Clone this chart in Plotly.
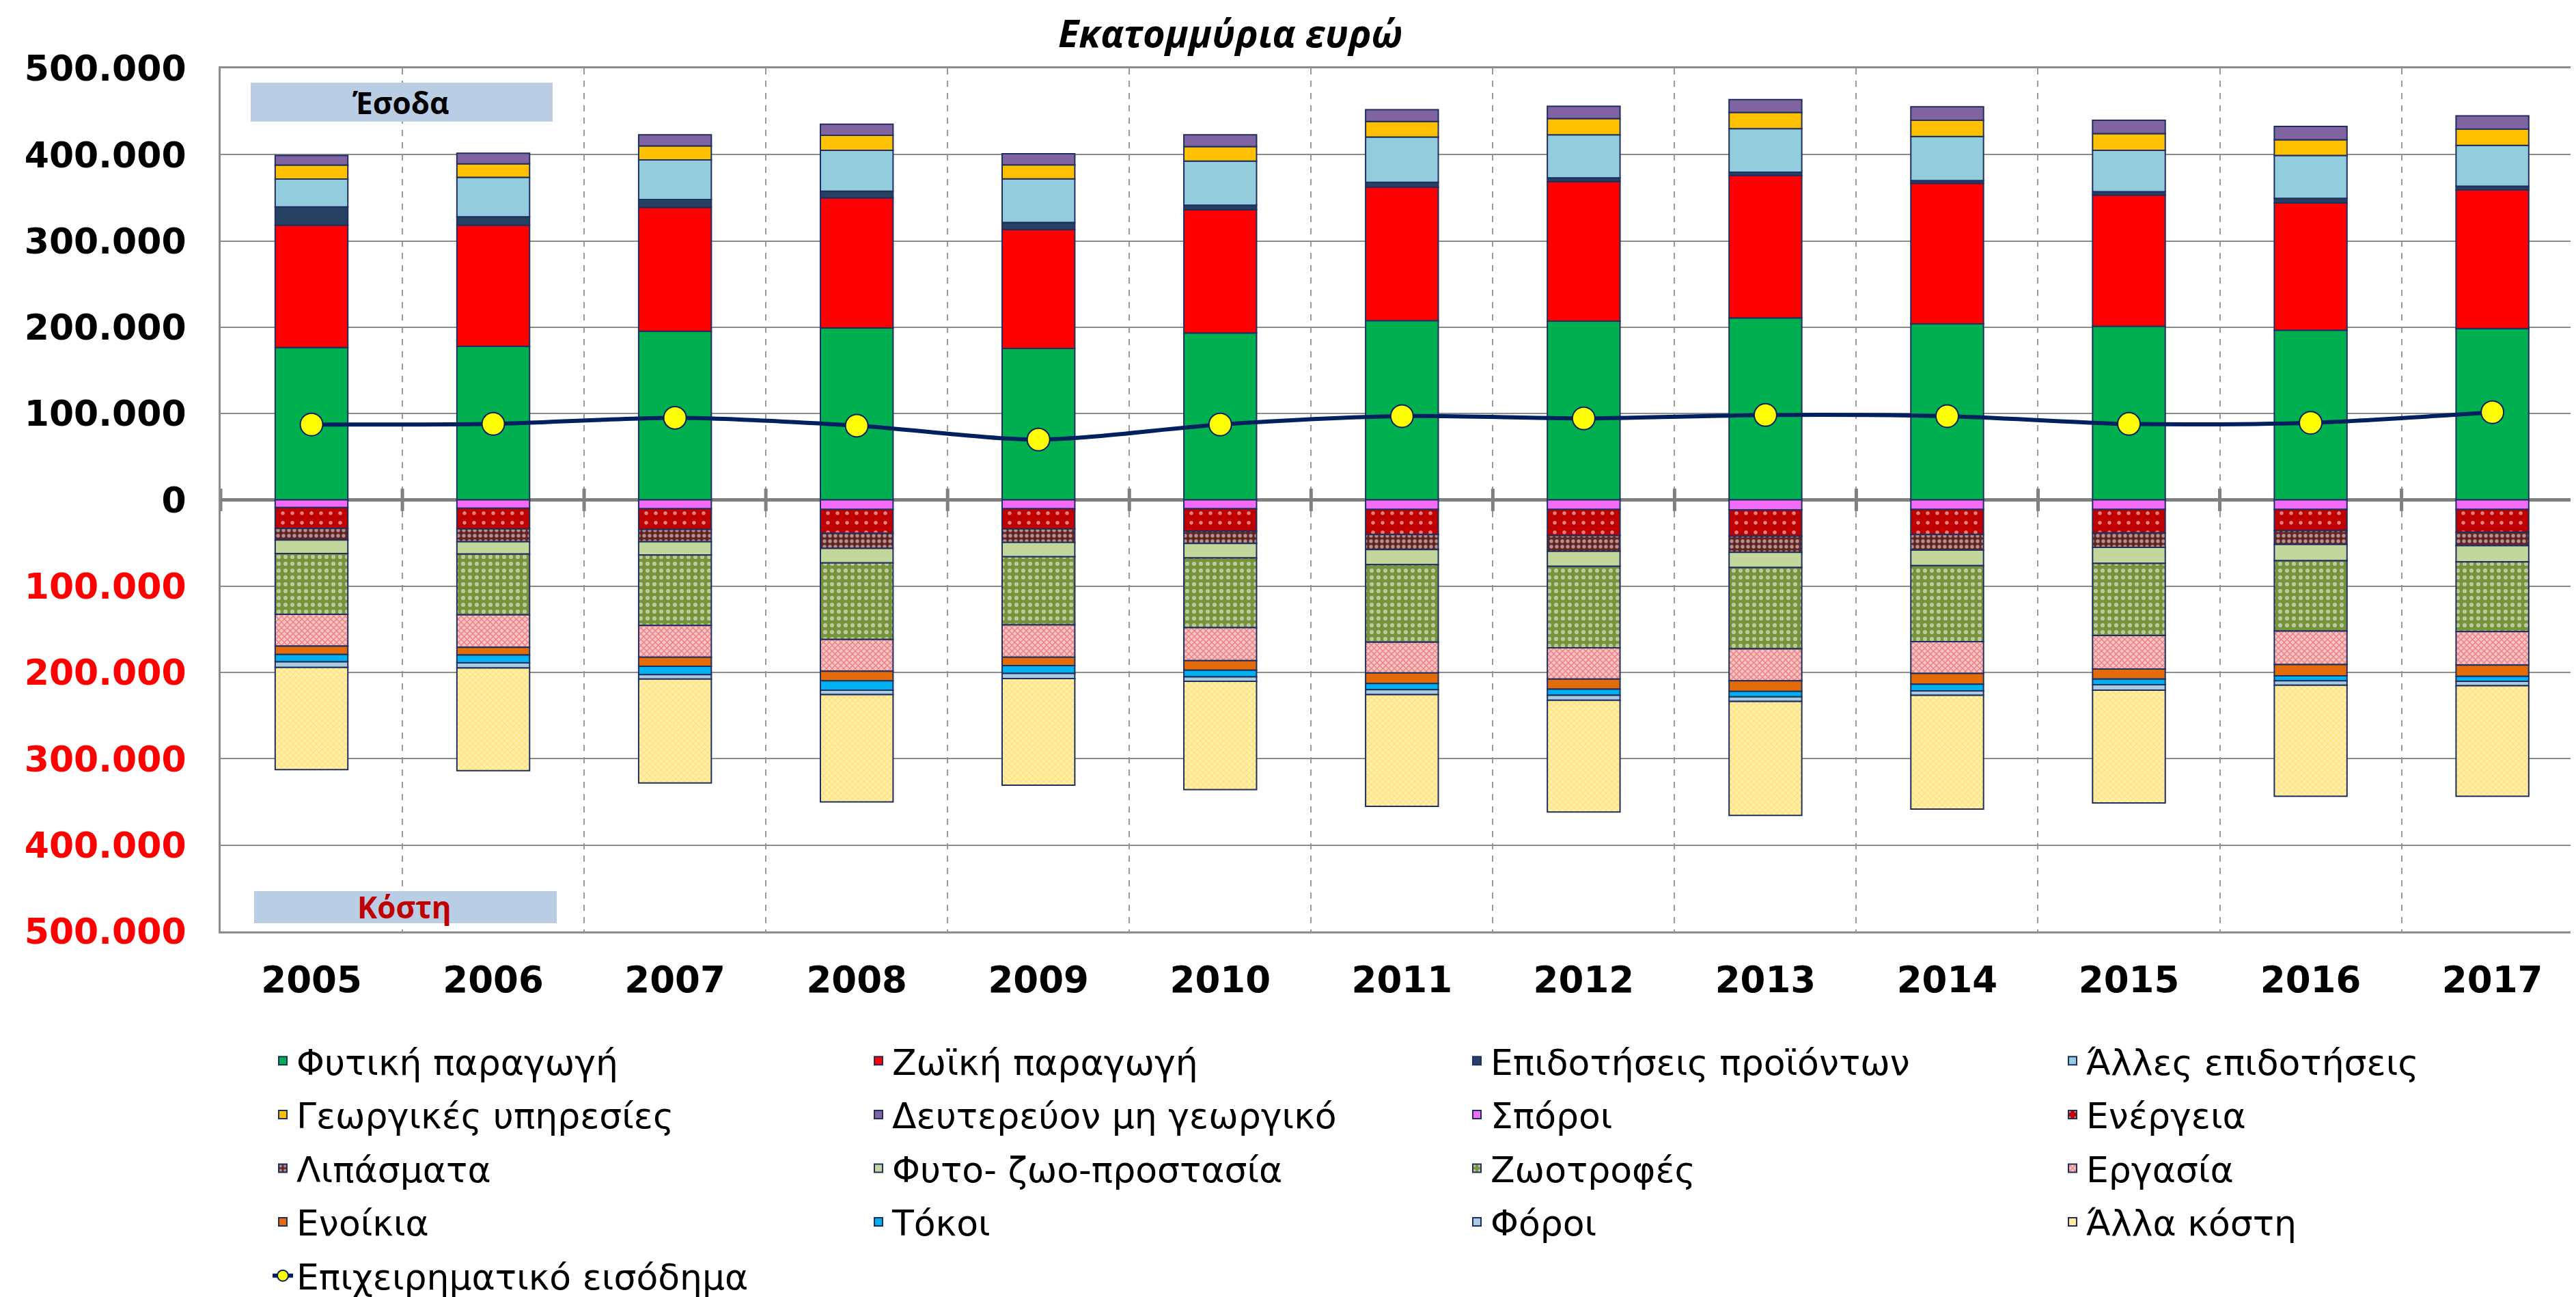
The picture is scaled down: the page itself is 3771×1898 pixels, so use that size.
import plotly.graph_objects as go

years = [str(y) for y in range(2005, 2018)]

# Income components
crop =        [176600, 177900, 195300, 199200, 175300, 193400, 207600, 207000, 210900, 203800, 201200, 196600, 198600]
animal =      [141600, 140300, 143600, 150700, 137800, 143000, 154600, 161700, 164900, 163000, 152000, 147500, 160400]
prod_subs =   [21300, 9700, 9100, 7800, 8400, 5100, 5800, 4500, 3900, 3200, 3900, 5200, 4500]
other_subs =  [32300, 45900, 45900, 47200, 50400, 51100, 52400, 49800, 50400, 51100, 47800, 49800, 47200]
agri_serv =   [16200, 15500, 16200, 17500, 16200, 16800, 18100, 18800, 18800, 18700, 19400, 18100, 18800]
secondary =   [11000, 12300, 12900, 12900, 12900, 13600, 13600, 14200, 14900, 15600, 15500, 15500, 15500]

# Cost components (shown below zero)
seeds =       [9000, 9700, 10300, 11000, 10300, 10300, 11000, 11000, 11600, 11000, 11000, 11000, 11000]
energy =      [24000, 23900, 24000, 27800, 23300, 25900, 29100, 30400, 30400, 29100, 27200, 24600, 26500]
fertil =      [13600, 14900, 14200, 17500, 15600, 14300, 17500, 18100, 18800, 18100, 16800, 16100, 15500]
protection =  [15500, 14200, 15500, 16800, 16800, 16800, 17400, 17500, 17500, 18100, 18700, 18800, 18800]
feed =        [70500, 70500, 81500, 88600, 78900, 80800, 89900, 94400, 94400, 88000, 83500, 81500, 80900]
labour =      [36900, 37600, 36900, 36900, 37500, 38200, 35600, 36200, 36900, 36900, 38800, 38800, 38800]
rent =        [9700, 9000, 10400, 11000, 9700, 11000, 12300, 11700, 12300, 12300, 11600, 13000, 12900]
interest =    [8400, 9100, 9700, 11000, 9100, 7700, 7100, 7100, 6400, 7700, 6500, 5800, 5800]
taxes =       [6500, 5800, 5100, 5100, 5800, 5200, 5800, 5800, 5200, 5200, 6500, 5100, 5200]
other_costs = [118400, 119000, 120300, 124200, 123500, 125500, 129400, 129400, 132000, 131900, 130600, 128800, 128100]

# Entrepreneurial income (line)
income =      [87300, 88000, 95100, 86000, 69900, 87300, 97000, 94400, 98300, 97000, 88000, 89300, 101600]

y_ticks = [500000, 400000, 300000, 200000, 100000, 0, -100000, -200000, -300000, -400000, -500000]

# ---------------------------------------------------------------------------
OFF = 8                      # default page margin of the html body
W, H = 3771 - OFF, 1898 - OFF
ML, MT = 323 - OFF, 100 - OFF
PLOT_BOTTOM = 1363 - OFF
MB = H - PLOT_BOTTOM
MR = 0
PW, PH = W - ML - MR, H - MT - MB


def px_x(p):
    """page pixel x -> paper coordinate"""
    return (p - OFF - ML) / PW


def px_y(p):
    """page pixel y -> paper coordinate"""
    return (PLOT_BOTTOM - (p - OFF)) / PH


def fmt(v):
    s = f"{abs(v):,}".replace(",", ".")
    if v < 0:
        return f"<span style='color:#FF0000'>{s}</span>"
    return s


OUTLINE = dict(color="#1F2F5F", width=2)

income_series = [
    ("Φυτική παραγωγή", crop, "#00B050", None),
    ("Ζωϊκή παραγωγή", animal, "#FF0000", None),
    ("Επιδοτήσεις προϊόντων", prod_subs, "#254061", None),
    ("Άλλες επιδοτήσεις", other_subs, "#93CDDD", None),
    ("Γεωργικές υπηρεσίες", agri_serv, "#FFC000", None),
    ("Δευτερεύον μη γεωργικό", secondary, "#8064A2", None),
]
cost_series = [
    ("Σπόροι", seeds, "#F36CF7", None),
    ("Ενέργεια", energy, "#C00000", dict(shape=".", bgcolor="#C00000", fgcolor="#FFFFFF", size=14, solidity=0.12)),
    ("Λιπάσματα", fertil, "#632523", dict(shape=".", bgcolor="#632523", fgcolor="#FFFFFF", size=8, solidity=0.35)),
    ("Φυτο- ζωο-προστασία", protection, "#C3D69B", None),
    ("Ζωοτροφές", feed, "#77933C", dict(shape=".", bgcolor="#77933C", fgcolor="#FFFFFF", size=10, solidity=0.3)),
    ("Εργασία", labour, "#F2A0A0", dict(shape="x", bgcolor="#F8C8C8", fgcolor="#E03A40", size=6, solidity=0.45)),
    ("Ενοίκια", rent, "#E36C09", None),
    ("Τόκοι", interest, "#00B0F0", None),
    ("Φόροι", taxes, "#A9CCE0", None),
    ("Άλλα κόστη", other_costs, "#FFE38C", dict(shape="x", bgcolor="#FFF0B0", fgcolor="#FFD54A", size=6, solidity=0.45)),
]

legend_ids = ["legend", "legend2", "legend3", "legend4"]

fig = go.Figure()
idx = 0
for name, vals, col, pat in income_series:
    marker = dict(color=col, line=OUTLINE)
    if pat:
        marker["pattern"] = pat
    fig.add_trace(go.Bar(x=years, y=vals, name=name, marker=marker,
                         legend=legend_ids[idx % 4], legendgroup=name))
    idx += 1
for name, vals, col, pat in cost_series:
    marker = dict(color=col, line=OUTLINE)
    if pat:
        marker["pattern"] = pat
    fig.add_trace(go.Bar(x=years, y=[-v for v in vals], name=name, marker=marker,
                         legend=legend_ids[idx % 4], legendgroup=name))
    idx += 1

fig.add_trace(go.Scatter(
    x=years, y=income, name="Επιχειρηματικό εισόδημα", mode="lines+markers",
    line=dict(color="#002060", width=6, shape="spline", smoothing=0.8),
    marker=dict(size=33, color="#FFFF00", line=dict(color="#002060", width=2)),
    legend=legend_ids[idx % 4], legendgroup="Επιχειρηματικό εισόδημα"))

# legends (4 columns)
leg_font = dict(family="DejaVu Sans", size=52, color="#000000")
leg_left_px = [394, 1266, 2142, 3014]
legend_y = px_y(1512)
legends = {}
for i, lid in enumerate(legend_ids):
    legends[lid] = dict(x=px_x(leg_left_px[i]), y=legend_y, xanchor="left", yanchor="top",
                        orientation="v", font=leg_font, tracegroupgap=8,
                        bgcolor="rgba(0,0,0,0)", borderwidth=0, traceorder="grouped")

grid_col = "#8C8C8C"

shapes = []
# small tick marks on the zero line at category boundaries
for k in range(0, 14):
    shapes.append(dict(type="line", xref="x", yref="y", x0=k - 0.5, x1=k - 0.5,
                       y0=-13000, y1=13000, line=dict(color="#808080", width=5)))
# label boxes
shapes.append(dict(type="rect", xref="paper", yref="paper",
                   x0=px_x(367), x1=px_x(809), y0=px_y(178), y1=px_y(121),
                   fillcolor="#B9CDE5", line=dict(width=0), layer="above"))
shapes.append(dict(type="rect", xref="paper", yref="paper",
                   x0=px_x(372), x1=px_x(815), y0=px_y(1351), y1=px_y(1304),
                   fillcolor="#B9CDE5", line=dict(width=0), layer="above"))

annotations = [
    dict(text="<b><i>Εκατομμύρια ευρώ</i></b>", xref="paper", yref="paper",
         x=px_x(1801), y=px_y(47), xanchor="center", yanchor="middle", showarrow=False,
         font=dict(family="Open Sans", size=56, color="#000000")),
    dict(text="<b>Έσοδα</b>", xref="paper", yref="paper",
         x=px_x(586), y=px_y(150), xanchor="center", yanchor="middle", showarrow=False,
         font=dict(family="Open Sans", size=44, color="#000000")),
    dict(text="<b>Κόστη</b>", xref="paper", yref="paper",
         x=px_x(592), y=px_y(1327), xanchor="center", yanchor="middle", showarrow=False,
         font=dict(family="Open Sans", size=44, color="#C00000")),
]

fig.update_layout(
    width=W, height=H,
    margin=dict(l=ML, r=MR, t=MT, b=MB, autoexpand=False),
    paper_bgcolor="#FFFFFF", plot_bgcolor="#FFFFFF",
    barmode="relative", bargap=0.6,
    showlegend=True,
    shapes=shapes, annotations=annotations,
    **legends,
)

fig.update_xaxes(
    type="category", range=[-0.5, 12.46],
    tickson="boundaries", ticks="",
    showgrid=True, gridcolor="#9A9A9A", gridwidth=2, griddash="dash",
    showline=True, linecolor=grid_col, linewidth=3, mirror=True,
    tickfont=dict(family="DejaVu Sans", size=53, color="#000000", weight="bold"),
    ticklabelstandoff=22,
)
fig.update_yaxes(
    range=[-500000, 500000],
    tickvals=y_ticks, ticktext=[fmt(v) for v in y_ticks],
    ticks="", showgrid=True, gridcolor=grid_col, gridwidth=2,
    zeroline=True, zerolinecolor="#808080", zerolinewidth=5,
    showline=True, linecolor=grid_col, linewidth=3, mirror=True,
    tickfont=dict(family="DejaVu Sans", size=52, color="#000000", weight="bold"),
    ticklabelstandoff=37,
)

fig.write_html("out.html")
